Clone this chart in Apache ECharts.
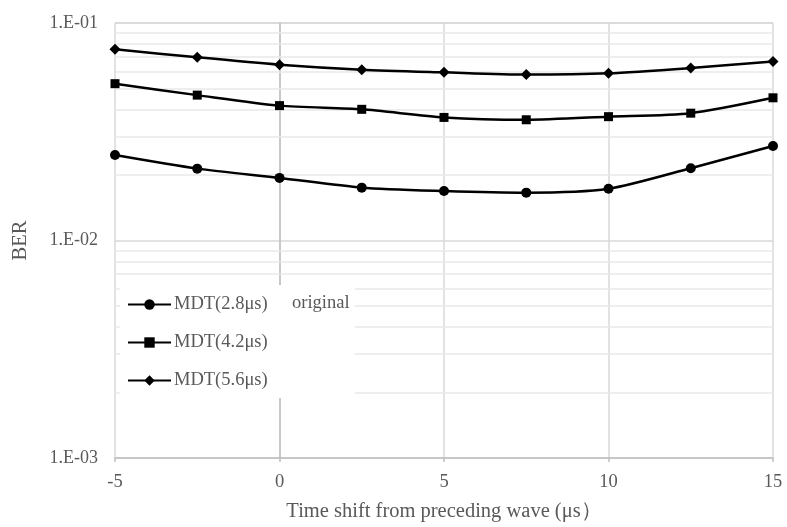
<!DOCTYPE html>
<html>
<head>
<meta charset="utf-8">
<script src="https://cdn.jsdelivr.net/npm/echarts@6/dist/echarts.min.js"></script>
<style>
  html, body { margin: 0; padding: 0; background: #fff; }
  #main { width: 787px; height: 527px; }
</style>
</head>
<body>
<div id="main"></div>
<script>
// time shift (us)
var timeShift = [-5, -2.5, 0, 2.5, 5, 7.5, 10, 12.5, 15];
// BER per MDT
var ber28 = [0.0247, 0.0214, 0.0194, 0.0175, 0.0169, 0.0166, 0.0173, 0.0215, 0.0272];
var ber42 = [0.0526, 0.0466, 0.0417, 0.0401, 0.0368, 0.0359, 0.0371, 0.0385, 0.0453];
var ber56 = [0.0758, 0.0695, 0.0643, 0.0610, 0.0593, 0.0579, 0.0587, 0.0621, 0.0666];
// minor log gridlines
var minorGrid = [0.002, 0.003, 0.004, 0.005, 0.006, 0.007, 0.008, 0.009,
                 0.02, 0.03, 0.04, 0.05, 0.06, 0.07, 0.08, 0.09];

var font = "'Liberation Serif', 'Times New Roman', serif";
var txt = "#595959";

function pairs(ys) {
  return timeShift.map(function (x, i) { return [x, ys[i]]; });
}

function makeSeries(name, ys, symbol, size) {
  return {
    name: name,
    type: "line",
    data: pairs(ys),
    smooth: 0.25,
    symbol: symbol,
    symbolSize: size,
    showSymbol: true,
    itemStyle: { color: "#000" },
    lineStyle: { color: "#000", width: 2.5 },
    z: 3,
  };
}

var s1 = makeSeries("MDT(2.8μs)", ber28, "circle", 10);
var s2 = makeSeries("MDT(4.2μs)", ber42, "rect", 9);
var s3 = makeSeries("MDT(5.6μs)", ber56, "diamond", 11);

// minor gridlines (precision high so 0.00x values are not rounded to 0)
s1.markLine = {
  silent: true,
  symbol: "none",
  precision: 6,
  z: 1,
  label: { show: false },
  lineStyle: { color: "#e9e9e9", width: 1.5, type: "solid" },
  emphasis: { disabled: true },
  data: minorGrid.map(function (v) { return { yAxis: v }; }),
};

var chart = echarts.init(document.getElementById("main"), null, { renderer: "canvas" });
chart.setOption({
  animation: false,
  backgroundColor: "#fff",
  textStyle: { fontFamily: font },
  grid: { left: 115, top: 23, right: 14, bottom: 66 },
  xAxis: {
    type: "value",
    min: -5,
    max: 15,
    interval: 5,
    name: "Time shift from preceding wave (μs）",
    nameLocation: "middle",
    nameGap: 43,
    nameTextStyle: { color: txt, fontSize: 20.5, fontFamily: font },
    axisLine: { show: true, lineStyle: { color: "#bfbfbf", width: 1.5 } },
    axisTick: { show: true, length: 4, lineStyle: { color: "#bfbfbf", width: 1.5 } },
    axisLabel: { color: txt, fontSize: 18.5, fontFamily: font, margin: 15 },
    splitLine: { show: true, lineStyle: { color: "#d9d9d9", width: 1.5 } },
  },
  yAxis: {
    type: "log",
    logBase: 10,
    min: 0.001,
    max: 0.1,
    name: "BER",
    nameLocation: "middle",
    nameGap: 84,
    nameRotate: 90,
    nameTextStyle: { color: txt, fontSize: 20.5, fontFamily: font },
    axisLine: { show: true, lineStyle: { color: "#bfbfbf", width: 1.5 } },
    axisTick: { show: false },
    axisLabel: {
      color: txt,
      fontSize: 18,
      fontFamily: font,
      margin: 17,
      formatter: function (v) {
        var e = Math.round(Math.log10(v));
        return "1.E-" + String(-e).padStart(2, "0");
      },
    },
    splitLine: { show: true, lineStyle: { color: "#d9d9d9", width: 1.5 } },
  },
  legend: {
    orient: "vertical",
    left: 120,
    top: 285,
    padding: [10, 87, 8, 7],
    backgroundColor: "#fff",
    itemWidth: 43,
    itemHeight: 13,
    itemGap: 19,
    selectedMode: false,
    textStyle: { color: txt, fontSize: 18.5, fontFamily: font, lineHeight: 18, padding: [0, 0, 0, -2] },
    data: ["MDT(2.8μs)", "MDT(4.2μs)", "MDT(5.6μs)"],
  },
  graphic: [
    {
      type: "text",
      left: 292,
      top: 294,
      z: 10,
      style: { text: "original", fill: txt, font: "18.5px " + font },
    },
  ],
  series: [s1, s2, s3],
});
</script>
</body>
</html>
